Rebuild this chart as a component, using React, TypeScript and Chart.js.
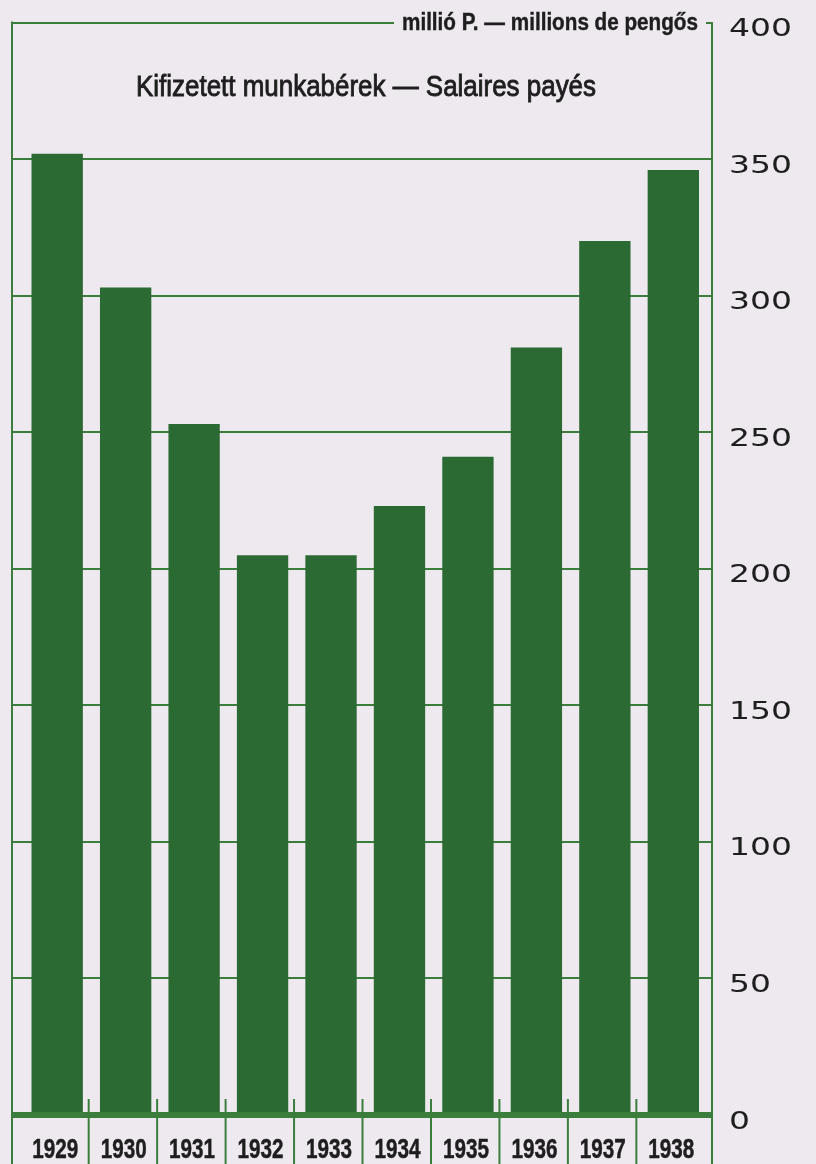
import React, { useEffect, useRef } from "react";
import { Chart, registerables } from "chart.js";

Chart.register(...registerables);

const YEARS = ["1929", "1930", "1931", "1932", "1933", "1934", "1935", "1936", "1937", "1938"];
const WAGES = [352, 303, 253, 205, 205, 223, 241, 281, 320, 346];
const Y_MIN = 0;
const Y_MAX = 400;
const Y_STEP = 50;
const TITLE = "Kifizetett munkabérek — Salaires payés";
const UNIT = "millió P. — millions de pengős";

const BG = "#eee9ef";
const BAR = "#2c6a33";
const LINE = "#3b7d3c";
const INK = "#1e1e1e";

const W = 816;
const H = 1164;
const SANS = "'Liberation Sans', Arial, sans-serif";
const TICK_FONT = "25px 'DejaVu Sans', 'Liberation Sans', sans-serif";

function fitText(ctx: any, text: string, x: number, y: number, targetWidth: number, align: string, thicken = 0) {
  const w = ctx.measureText(text).width;
  const k = targetWidth / w;
  ctx.save();
  ctx.translate(x, y);
  ctx.scale(k, 1);
  ctx.textAlign = align;
  ctx.fillText(text, 0, 0);
  if (thicken > 0) {
    ctx.lineWidth = thicken;
    ctx.strokeStyle = ctx.fillStyle;
    ctx.strokeText(text, 0, 0);
  }
  ctx.restore();
}

const decor = {
  id: "decor",
  beforeDraw(chart: any) {
    const ctx = chart.ctx;
    ctx.save();
    ctx.fillStyle = BG;
    ctx.fillRect(0, 0, chart.width, chart.height);
    ctx.restore();
  },
  afterDraw(chart: any) {
    const ctx = chart.ctx;
    const area = chart.chartArea;
    const xs = chart.scales.x;
    const ys = chart.scales.y;
    ctx.save();
    ctx.strokeStyle = LINE;
    ctx.lineWidth = 2;
    // left border
    ctx.beginPath();
    ctx.moveTo(area.left, area.top - 1);
    ctx.lineTo(area.left, H);
    ctx.stroke();
    // right axis extension
    ctx.beginPath();
    ctx.moveTo(area.right, area.bottom);
    ctx.lineTo(area.right, H);
    ctx.stroke();
    // separators between years
    for (let i = 0; i < YEARS.length - 1; i++) {
      const x = xs.getPixelForValue(i + 0.46);
      ctx.beginPath();
      ctx.moveTo(x, area.bottom - 16);
      ctx.lineTo(x, H);
      ctx.stroke();
    }
    // unit text over the top gridline
    ctx.font = "bold 23px " + SANS;
    ctx.textBaseline = "alphabetic";
    const uy = ys.getPixelForValue(Y_MAX);
    const ux = area.right - 14;
    ctx.fillStyle = BG;
    ctx.fillRect(ux - 296 - 8, uy - 4, 296 + 16, 8);
    ctx.fillStyle = INK;
    fitText(ctx, UNIT, ux, uy + 7.5, 296, "right", 0.4);
    // title
    ctx.font = "30px " + SANS;
    fitText(ctx, TITLE, 136, 96, 460, "left", 0.9);
    // year labels from the x scale ticks
    ctx.font = "bold 28px " + SANS;
    for (const t of xs.ticks) {
      const i = Math.round(t.value);
      if (i !== t.value || i < 0 || i >= YEARS.length) continue;
      fitText(ctx, YEARS[i], xs.getPixelForValue(i) - 2, 1158, 46, "center", 0.5);
    }
    // y tick labels (wide geometric look)
    ctx.font = TICK_FONT;
    ctx.textBaseline = "middle";
    for (const t of ys.ticks) {
      const y = ys.getPixelForValue(t.value) + 7;
      ctx.save();
      ctx.translate(area.right + 17, y);
      ctx.scale(1.32, 1);
      ctx.textAlign = "left";
      ctx.fillText(String(t.value), 0, 0);
      ctx.restore();
    }
    ctx.restore();
  },
};

export default function App() {
  const ref = useRef<HTMLCanvasElement | null>(null);
  useEffect(() => {
    document.body.style.margin = "0";
    document.body.style.background = BG;
    const canvas = ref.current;
    if (!canvas) return;
    let alive = true;
    const chart = new Chart(canvas, {
      type: "bar",
      data: {
        datasets: [
          {
            data: WAGES.map((v, i) => ({ x: i, y: v })),
            backgroundColor: BAR,
            borderWidth: 0,
            barPercentage: 0.75,
            categoryPercentage: 1,
          },
        ],
      },
      options: {
        animation: false,
        responsive: false,
        devicePixelRatio: 1,
        layout: { padding: { left: 12, top: 22.6, right: 0, bottom: 0 } },
        plugins: { legend: { display: false }, tooltip: { enabled: false }, title: { display: false } },
        scales: {
          x: {
            type: "linear",
            min: -0.66,
            max: 9.565,
            offset: false,
            grid: { display: false, drawTicks: false },
            border: { display: false },
            afterBuildTicks: (s: any) => {
              s.ticks = YEARS.map((_, i) => ({ value: i }));
            },
            afterFit: (s: any) => {
              s.height = H - 1115;
            },
            ticks: { display: false },
          },
          y: {
            position: "right",
            min: Y_MIN,
            max: Y_MAX,
            afterFit: (s: any) => {
              s.width = W - 712;
            },
            grid: {
              color: LINE,
              lineWidth: (c: any) => (c.tick && c.tick.value === 0 ? 6 : 2),
              drawTicks: false,
            },
            border: { display: true, color: LINE, width: 2 },
            ticks: { display: false, stepSize: Y_STEP },
          },
        },
      },
      plugins: [decor],
    });
    const fonts: any = (document as any).fonts;
    if (fonts && fonts.load) {
      Promise.all([
        fonts.load(TICK_FONT, "0123456789"),
        fonts.load("30px 'Liberation Sans'", TITLE),
        fonts.load("bold 28px 'Liberation Sans'", "1929"),
      ])
        .then(() => {
          if (alive) chart.draw();
        })
        .catch(() => {});
    }
    return () => {
      alive = false;
      chart.destroy();
    };
  }, []);
  return (
    <div style={{ width: W, height: H, background: BG }}>
      <canvas ref={ref} width={W} height={H} style={{ width: W, height: H, display: "block" }} />
    </div>
  );
}
